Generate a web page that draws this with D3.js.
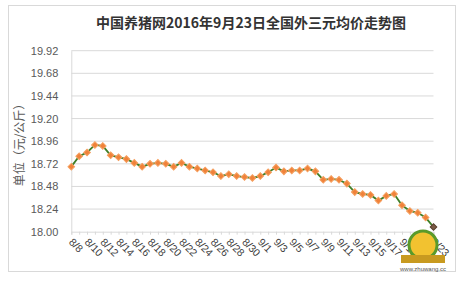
<!DOCTYPE html>
<html>
<head>
<meta charset="utf-8">
<script src="https://cdn.jsdelivr.net/npm/d3@7"></script>
<style>
body{margin:0;background:#fff;}
svg{display:block;font-family:"Liberation Sans",Arial,sans-serif;}
</style>
</head>
<body>
<div id="viz"></div>
<script>
var dates=['8/8','8/9','8/10','8/11','8/12','8/13','8/14','8/15','8/16','8/17','8/18','8/19',
    '8/20','8/21','8/22','8/23','8/24','8/25','8/26','8/27','8/28','8/29','8/30','8/31',
    '9/1','9/2','9/3','9/4','9/5','9/6','9/7','9/8','9/9','9/10','9/11','9/12',
    '9/13','9/14','9/15','9/16','9/17','9/18','9/19','9/20','9/21','9/22','9/23'];
var prices=[18.69,18.80,18.84,18.92,18.91,18.81,18.79,18.77,18.73,18.69,18.72,18.73,
    18.72,18.69,18.73,18.69,18.67,18.65,18.63,18.59,18.61,18.59,18.58,18.57,
    18.59,18.63,18.68,18.64,18.65,18.65,18.67,18.64,18.55,18.56,18.55,18.51,
    18.42,18.40,18.39,18.33,18.38,18.40,18.28,18.22,18.20,18.15,18.05];
var yTicks=[18.00,18.24,18.48,18.72,18.96,19.20,19.44,19.68,19.92];
var title='中国养猪网2016年9月23日全国外三元均价走势图';
var yTitle='单位（元/公斤）';
//----------------------------------------------------------------
var width=461,
    height=282,
    plotLeft=71.3,
    plotRight=433.5,
    plotTop=50.7,
    plotBottom=231.7;

var svg=d3.select('#viz').append('svg')
    .attr('width',width)
    .attr('height',height);

// frame
svg.append('rect')
    .attr('x',8.5).attr('y',5.5)
    .attr('width',447).attr('height',266)
    .style('fill','#fff')
    .style('stroke','#d9d9d9');

var xScale=d3.scalePoint()
    .domain(dates)
    .range([plotLeft,plotRight]);

var yScale=d3.scaleLinear()
    .domain([18,19.92])
    .range([plotBottom,plotTop]);

// title
svg.append('text')
    .attr('x',251).attr('y',28)
    .attr('text-anchor','middle')
    .style('font-family','"Noto Sans CJK SC",sans-serif')
    .style('font-size','14px')
    .style('font-weight','bold')
    .style('fill','#333')
    .text(title);

//GRID----------------------------------------------------------------
svg.append('g').selectAll('line').data(yTicks.slice(1))
    .enter().append('line')
    .attr('x1',plotLeft).attr('x2',plotRight)
    .attr('y1',function(d){return yScale(d);})
    .attr('y2',function(d){return yScale(d);})
    .style('stroke','#d9d9d9')
    .style('stroke-width',1);

var yAxis=svg.append('g')
    .attr('transform','translate('+plotLeft+',0)')
    .call(d3.axisLeft(yScale).tickValues(yTicks).tickFormat(d3.format('.2f')).tickSize(0).tickPadding(13));
yAxis.select('.domain').style('stroke','#d9d9d9');
yAxis.selectAll('text')
    .style('font-size','11px')
    .style('fill','#595959');

var xAxis=svg.append('g')
    .attr('transform','translate(0,'+plotBottom+')')
    .call(d3.axisBottom(xScale).tickSize(3).tickFormat(''));
xAxis.select('.domain').style('stroke','#d9d9d9');
xAxis.selectAll('.tick line').style('stroke','#d9d9d9');

svg.append('g').selectAll('text')
    .data(dates.filter(function(d,i){return i%2==0;}))
    .enter().append('text')
    .attr('transform',function(d){
        return 'translate('+(xScale(d)-3)+','+(plotBottom+11)+') rotate(45)';
    })
    .style('font-size','10.5px')
    .style('fill','#404040')
    .text(function(d){return d;});

// y title
svg.append('text')
    .attr('transform','translate(24,142) rotate(-90)')
    .attr('text-anchor','middle')
    .style('font-family','"Noto Sans CJK SC",sans-serif')
    .style('font-size','12px')
    .style('fill','#595959')
    .text(yTitle);

//LINE----------------------------------------------------------------
var line=d3.line()
    .x(function(d,i){return xScale(dates[i]);})
    .y(function(d){return yScale(d);});

svg.append('path')
    .datum(prices)
    .attr('d',line)
    .style('fill','none')
    .style('stroke','#3f7f28')
    .style('stroke-width',1.8);

svg.append('g').selectAll('path').data(prices)
    .enter().append('path')
    .attr('d',d3.symbol().type(d3.symbolSquare).size(22))
    .attr('transform',function(d,i){
        return 'translate('+xScale(dates[i])+','+yScale(d)+') rotate(45)';
    })
    .style('fill',function(d,i){
        return i==prices.length-1?'#7a5a45':'#f0823a';
    })
    .style('stroke',function(d,i){
        return i==prices.length-1?'#5a4030':'#f5a060';
    })
    .style('stroke-width',1);

//LOGO----------------------------------------------------------------
var logo=svg.append('g').attr('transform','translate(423,245)');
logo.append('circle').attr('r',14)
    .style('fill','#f2c230')
    .style('stroke','#5a9a2a')
    .style('stroke-width',3);
logo.append('rect')
    .attr('x',-22).attr('y',10).attr('width',44).attr('height',8)
    .style('fill','#c89a20');
logo.append('text')
    .attr('y',25.5)
    .attr('text-anchor','middle')
    .style('font-size','6px')
    .style('fill','#555')
    .text('www.zhuwang.cc');
</script>
</body>
</html>
